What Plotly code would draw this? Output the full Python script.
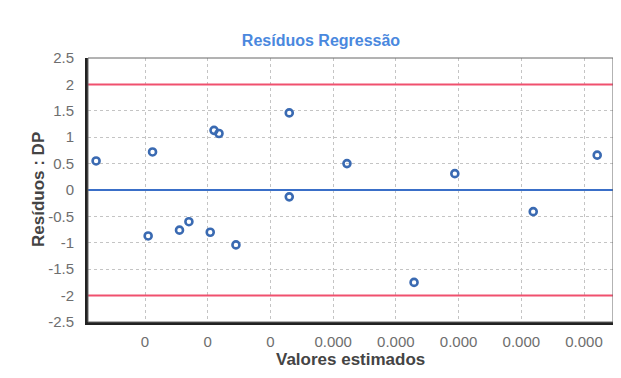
import plotly.graph_objects as go

# Data (x in tick-index units; the original tick labels are rounded to 0)
x_vals = [0.22, 1.12, 2.10, 2.18, 3.30, 3.30, 1.05, 1.55, 1.70, 2.04, 2.45, 4.22, 5.94, 8.21, 5.29, 7.19]
residuals = [0.55, 0.72, 1.13, 1.07, 1.46, -0.13, -0.87, -0.76, -0.60, -0.80, -1.04, 0.50, 0.31, 0.66, -1.75, -0.41]

x_tick_vals = [1, 2, 3, 4, 5, 6, 7, 8]
x_tick_text = ["0", "0", "0", "0.000", "0.000", "0.000", "0.000", "0.000"]
y_tick_vals = [2.5, 2, 1.5, 1, 0.5, 0, -0.5, -1, -1.5, -2, -2.5]
y_tick_text = ["2.5", "2", "1.5", "1", "0.5", "0", "-0.5", "-1", "-1.5", "-2", "-2.5"]

upper_limit = 2
lower_limit = -2
center_line = 0
x_range = [0.091, 8.462]
y_range = [-2.5, 2.5]

# page body adds an 8px offset, so the figure is drawn 8px smaller
W, H = 613, 370

fig = go.Figure()

for yv, col in [(upper_limit, "#f0506e"), (lower_limit, "#f0506e"), (center_line, "#3a6fc8")]:
    fig.add_trace(go.Scatter(x=x_range, y=[yv, yv], mode="lines",
                             line=dict(color=col, width=2), hoverinfo="skip",
                             showlegend=False))

fig.add_trace(go.Scatter(x=x_vals, y=residuals, mode="markers",
                         marker=dict(symbol="circle-open", size=7, color="#3a6ab2",
                                     line=dict(width=2.6, color="#3a6ab2")),
                         showlegend=False))

fig.update_layout(
    width=W, height=H,
    margin=dict(l=80, r=8, t=50, b=56),
    paper_bgcolor="white", plot_bgcolor="white",
    font=dict(family="Liberation Sans, Arial, sans-serif"),
    title=dict(text="<b>Resíduos Regressão</b>", xref="container", x=313 / W,
               y=1 - 32 / H, yanchor="middle", xanchor="center",
               font=dict(size=16, color="#4a88de")),
    xaxis=dict(range=x_range, tickvals=x_tick_vals, ticktext=x_tick_text,
               showgrid=True, gridcolor="#c4c4c4", griddash="dot", gridwidth=1,
               zeroline=False, showline=True, linecolor="#222", linewidth=3,
               ticks="", ticklabelstandoff=4,
               tickfont=dict(size=15, color="#6e6e6e")),
    yaxis=dict(range=y_range, tickvals=y_tick_vals, ticktext=y_tick_text,
               showgrid=True, gridcolor="#c4c4c4", griddash="dot", gridwidth=1,
               zeroline=False, showline=True, linecolor="#222", linewidth=3,
               ticks="", ticklabelstandoff=8,
               tickfont=dict(size=15, color="#6e6e6e")),
    shapes=[dict(type="rect", xref="paper", yref="paper", x0=0, x1=1, y0=0, y1=1,
                 line=dict(color="#666", width=1), layer="above")],
    annotations=[
        dict(text="<b>Valores estimados</b>", xref="paper", yref="paper",
             x=0.5, y=-37 / 264, xanchor="center", yanchor="middle", showarrow=False,
             font=dict(size=17, color="#444444")),
        dict(text="<b>Resíduos : DP</b>", xref="paper", yref="paper",
             x=-50 / 525, y=0.5, xanchor="center", yanchor="middle", showarrow=False,
             textangle=-90, font=dict(size=17, color="#444444")),
    ],
)

fig.write_html("out.html")
